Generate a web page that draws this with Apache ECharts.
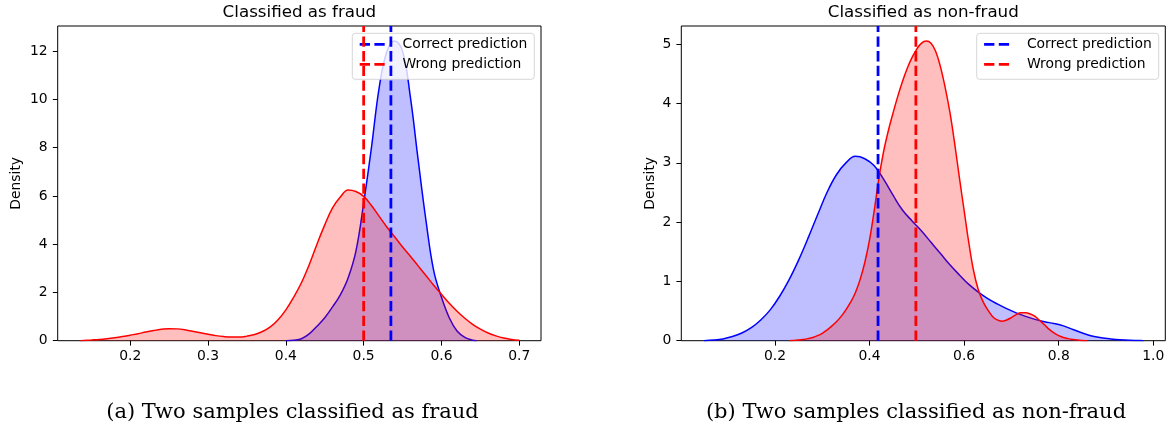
<!DOCTYPE html>
<html>
<head>
<meta charset="utf-8">
<script src="https://cdn.jsdelivr.net/npm/echarts@6/dist/echarts.min.js"></script>
<style>
html,body{margin:0;padding:0;background:#fff;}
#chart{width:1169px;height:430px;}
</style>
</head>
<body>
<div id="chart"></div>
<script>
// ---------- data ----------
// (a) Classified as fraud
const fraudCorrectX = [0.40,0.41,0.42,0.43,0.44,0.45,0.46,0.47,0.48,0.49,0.50,0.51,0.52,0.53,0.54,0.55,0.56,0.57,0.58,0.59,0.60,0.61,0.62,0.63,0.64,0.645];
const fraudCorrectY = [0,0.02,0.08,0.28,0.6,0.95,1.4,1.9,2.6,3.7,5.7,8.0,10.5,12.0,12.42,12.0,10.1,7.5,5.0,2.9,1.8,0.95,0.4,0.14,0.02,0];
const fraudWrongX = [0.136,0.14,0.15,0.16,0.17,0.18,0.19,0.20,0.21,0.22,0.23,0.24,0.25,0.26,0.27,0.28,0.29,0.30,0.31,0.32,0.33,0.34,0.35,0.36,0.37,0.38,0.39,0.40,0.41,0.42,0.43,0.44,0.45,0.46,0.47,0.48,0.49,0.50,0.51,0.52,0.53,0.54,0.55,0.56,0.57,0.58,0.59,0.60,0.61,0.62,0.63,0.64,0.65,0.66,0.67,0.68,0.69,0.70];
const fraudWrongY = [0,0.01,0.03,0.05,0.08,0.12,0.17,0.23,0.29,0.36,0.42,0.47,0.5,0.49,0.45,0.39,0.33,0.27,0.21,0.17,0.15,0.15,0.19,0.26,0.38,0.57,0.87,1.28,1.8,2.4,3.15,4.0,4.8,5.5,5.95,6.24,6.18,5.98,5.6,5.15,4.7,4.3,3.88,3.5,3.1,2.7,2.3,1.92,1.55,1.22,0.93,0.68,0.48,0.32,0.2,0.11,0.05,0.02];
const fraudCorrectMean = 0.535;
const fraudWrongMean = 0.5;

// (b) Classified as non-fraud
const nonFraudCorrectX = [0.05,0.07,0.09,0.11,0.13,0.15,0.17,0.19,0.21,0.23,0.25,0.27,0.29,0.31,0.33,0.35,0.37,0.39,0.41,0.43,0.45,0.47,0.49,0.51,0.53,0.55,0.57,0.59,0.61,0.63,0.65,0.67,0.69,0.71,0.73,0.75,0.77,0.79,0.81,0.83,0.85,0.87,0.89,0.91,0.93,0.95,0.97,0.979];
const nonFraudCorrectY = [0,0.01,0.03,0.07,0.13,0.22,0.35,0.52,0.75,1.03,1.36,1.73,2.12,2.5,2.8,3.0,3.11,3.07,2.95,2.72,2.45,2.2,2.02,1.85,1.66,1.47,1.28,1.11,0.95,0.82,0.71,0.62,0.54,0.47,0.41,0.36,0.32,0.29,0.25,0.19,0.13,0.08,0.05,0.03,0.015,0.006,0.002,0];
const nonFraudWrongX = [0.23,0.24,0.25,0.26,0.27,0.28,0.29,0.30,0.31,0.32,0.33,0.34,0.35,0.36,0.37,0.38,0.39,0.40,0.41,0.42,0.43,0.44,0.45,0.46,0.47,0.48,0.49,0.50,0.51,0.52,0.53,0.54,0.55,0.56,0.57,0.58,0.59,0.60,0.61,0.62,0.63,0.64,0.65,0.66,0.67,0.68,0.69,0.70,0.71,0.72,0.73,0.74,0.75,0.76,0.77,0.78,0.79,0.80,0.81,0.82,0.83,0.84,0.85,0.86];
const nonFraudWrongY = [0,0.005,0.01,0.02,0.035,0.055,0.085,0.125,0.18,0.245,0.32,0.41,0.52,0.65,0.81,1.03,1.32,1.7,2.2,2.75,3.2,3.55,3.85,4.13,4.38,4.6,4.78,4.92,5.02,5.056,5.02,4.88,4.62,4.27,3.85,3.33,2.75,2.2,1.65,1.18,0.86,0.66,0.52,0.41,0.35,0.33,0.35,0.39,0.44,0.47,0.47,0.45,0.41,0.34,0.27,0.19,0.13,0.085,0.055,0.035,0.02,0.01,0.004,0];
const nonFraudCorrectMean = 0.418;
const nonFraudWrongMean = 0.498;

// tick labels
const fraudXTicks = [0.2,0.3,0.4,0.5,0.6,0.7];
const fraudYTicks = [0,2,4,6,8,10,12];
const nonFraudXTicks = [0.2,0.4,0.6,0.8,1.0];
const nonFraudYTicks = [0,1,2,3,4,5];

const legendNames = ['Correct prediction','Wrong prediction'];
const titles = ['Classified as fraud','Classified as non-fraud'];
const captions = ['(a) Two samples classified as fraud','(b) Two samples classified as non-fraud'];

// ---------- build ----------
const zip = (xs, ys) => xs.map((x, i) => [x, ys[i]]);
const SANS = 'DejaVu Sans';
const BLUE = '#0000ff', RED = '#ff0000';

const ranges = [
  {xmin: 0.1068, xmax: 0.7279, ymax: 13.04},
  {xmin: 0.002, xmax: 1.0254, ymax: 5.309}
];

function xAxisFor(i, ticks) {
  return {
    type: 'value', gridIndex: i, min: ranges[i].xmin, max: ranges[i].xmax,
    axisLine: {show: false},
    splitLine: {show: false},
    axisTick: {show: true, customValues: ticks, length: 4.9, inside: false, lineStyle: {color: '#000', width: 1}},
    axisLabel: {show: true, customValues: ticks, margin: 9, color: '#000', fontFamily: SANS, fontSize: 13.9,
      formatter: v => Number(v).toFixed(1)}
  };
}
function yAxisFor(i, ticks, gap) {
  return {
    type: 'value', gridIndex: i, min: 0, max: ranges[i].ymax,
    name: 'Density', nameLocation: 'middle', nameGap: gap,
    nameTextStyle: {color: '#000', fontFamily: SANS, fontSize: 13.9},
    axisLine: {show: false},
    splitLine: {show: false},
    axisTick: {show: true, customValues: ticks, length: 4.9, inside: false, lineStyle: {color: '#000', width: 1}},
    axisLabel: {show: true, customValues: ticks, margin: 10, color: '#000', fontFamily: SANS, fontSize: 13.9,
      formatter: v => String(Math.round(v))}
  };
}
function kde(name, i, xs, ys, color, z) {
  return {
    type: 'line', name: name, xAxisIndex: i, yAxisIndex: i, data: zip(xs, ys),
    smooth: 0.4, symbol: 'none', showSymbol: false, z: z, silent: true,
    lineStyle: {color: color, width: 1.5},
    itemStyle: {color: color},
    areaStyle: {color: color, opacity: 0.25}
  };
}
function vline(name, i, x, color) {
  return {
    type: 'line', name: name, xAxisIndex: i, yAxisIndex: i,
    data: [[x, 0], [x, ranges[i].ymax]],
    symbol: 'none', showSymbol: false, z: 5, silent: true,
    lineStyle: {color: color, width: 2.78, type: [10.3, 4.4]},
    itemStyle: {color: color}
  };
}
function legendFor(left) {
  return {
    data: legendNames, orient: 'vertical', left: left, top: 33.3,
    padding: [4, 7, 8, 6], itemWidth: 27.8, itemHeight: 14, itemGap: 6,
    backgroundColor: 'rgba(255,255,255,0.8)', borderColor: 'rgba(204,204,204,0.8)', borderWidth: 1, borderRadius: 3,
    itemStyle: {opacity: 0},
    lineStyle: {type: [10.3, 4.4], width: 2.78},
    textStyle: {color: '#000', fontFamily: SANS, fontSize: 13.9, padding: [0, 0, 0, 10]},
    selectedMode: false
  };
}

const option = {
  animation: false,
  backgroundColor: '#fff',
  grid: [
    {left: 57.7, top: 26, width: 483.3, height: 314.7, show: true, borderColor: '#000', borderWidth: 1, backgroundColor: 'transparent'},
    {left: 681.3, top: 26, width: 484, height: 314.7, show: true, borderColor: '#000', borderWidth: 1, backgroundColor: 'transparent'}
  ],
  xAxis: [xAxisFor(0, fraudXTicks), xAxisFor(1, nonFraudXTicks)],
  yAxis: [yAxisFor(0, fraudYTicks, 34.7), yAxisFor(1, nonFraudYTicks, 24.3)],
  legend: [legendFor(352.3), legendFor(976.7)],
  series: [
    kde('fraud correct density', 0, fraudCorrectX, fraudCorrectY, BLUE, 2),
    kde('fraud wrong density', 0, fraudWrongX, fraudWrongY, RED, 3),
    vline(legendNames[0], 0, fraudCorrectMean, BLUE),
    vline(legendNames[1], 0, fraudWrongMean, RED),
    kde('non-fraud correct density', 1, nonFraudCorrectX, nonFraudCorrectY, BLUE, 2),
    kde('non-fraud wrong density', 1, nonFraudWrongX, nonFraudWrongY, RED, 3),
    vline(legendNames[0], 1, nonFraudCorrectMean, BLUE),
    vline(legendNames[1], 1, nonFraudWrongMean, RED)
  ],
  graphic: [
    {type: 'text', x: 299.4, y: 12.5, silent: true, style: {text: titles[0], fill: '#000', fontFamily: SANS, fontSize: 16.7, align: 'center', verticalAlign: 'middle'}},
    {type: 'text', x: 923.3, y: 12.5, silent: true, style: {text: titles[1], fill: '#000', fontFamily: SANS, fontSize: 16.7, align: 'center', verticalAlign: 'middle'}},
    {type: 'text', x: 292.5, y: 413, silent: true, style: {text: captions[0], fill: '#000', fontFamily: 'DejaVu Serif', fontSize: 21, align: 'center', verticalAlign: 'middle'}},
    {type: 'text', x: 916, y: 413, silent: true, style: {text: captions[1], fill: '#000', fontFamily: 'DejaVu Serif', fontSize: 21, align: 'center', verticalAlign: 'middle'}}
  ]
};

const chart = echarts.init(document.getElementById('chart'), null, {renderer: 'canvas'});
chart.setOption(option);
</script>
</body>
</html>
